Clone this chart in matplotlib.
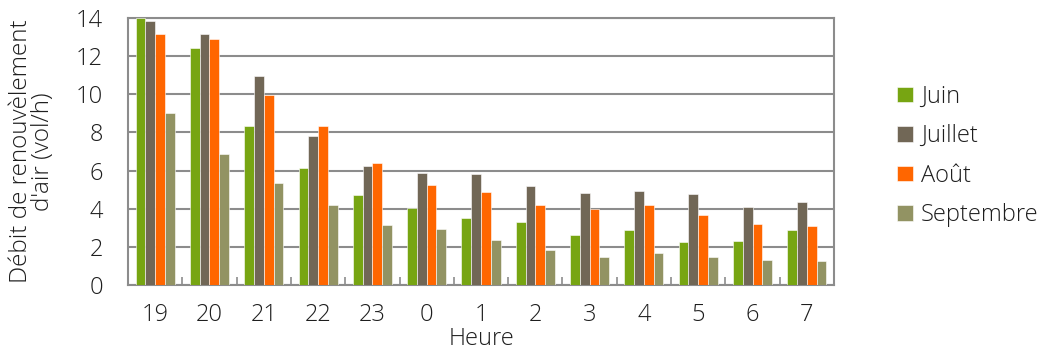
import matplotlib.pyplot as plt
import numpy as np

plt.rcParams['font.family'] = ['Open Sans', 'DejaVu Sans']

# hours and monthly air-change rates (vol/h)
hours = ['19', '20', '21', '22', '23', '0', '1', '2', '3', '4', '5', '6', '7']
juin = [14.0, 12.41, 8.34, 6.14, 4.70, 4.04, 3.53, 3.29, 2.61, 2.87, 2.24, 2.31, 2.87]
juillet = [13.84, 13.16, 10.94, 7.81, 6.24, 5.87, 5.84, 5.19, 4.81, 4.93, 4.77, 4.07, 4.37]
aout = [13.18, 12.92, 9.95, 8.32, 6.38, 5.24, 4.88, 4.19, 3.98, 4.18, 3.67, 3.20, 3.11]
septembre = [9.02, 6.89, 5.33, 4.20, 3.13, 2.92, 2.36, 1.84, 1.47, 1.66, 1.48, 1.31, 1.27]

series = [('Juin', juin, '#77a512'),
          ('Juillet', juillet, '#716756'),
          ('Août', aout, '#ff6600'),
          ('Septembre', septembre, '#929363')]

fs = 17
tc = '#1e1e1e'

fig = plt.figure(figsize=(10.41, 3.51), dpi=100)
ax = fig.add_axes([128 / 1041, 1 - 285 / 351, 706 / 1041, 267 / 351])

x = np.arange(len(hours))
w = 0.18
for i, (name, vals, col) in enumerate(series):
    ax.bar(x + (i - 1.5) * w, vals, w, color=col, label=name,
           edgecolor='white', linewidth=0.4, zorder=3)

ax.set_xlim(-0.5, len(hours) - 0.5)
ax.set_ylim(0, 14)
ax.set_xticks(x)
ax.set_xticklabels(hours, fontweight='light')
ax.set_yticks(range(0, 15, 2), [str(v) for v in range(0, 15, 2)], fontweight='light')
ax.set_xticks(np.arange(0.5, len(hours) - 1, 1), minor=True)
ax.tick_params(axis='x', which='major', length=0, pad=13, labelsize=fs, colors=tc)
ax.tick_params(axis='x', which='minor', direction='in', length=6, color='#8c8c8c', width=1.2)
ax.tick_params(axis='y', length=0, pad=18, labelsize=fs, colors=tc)
ax.grid(axis='y', color='#8c8c8c', linewidth=1.5, zorder=0)
for s in ax.spines.values():
    s.set_color('#8c8c8c')
    s.set_linewidth(1.5)

ax.set_xlabel('Heure', fontsize=fs, color=tc, fontweight='light', labelpad=0)
ax.set_ylabel("Débit de renouvèlement\nd'air (vol/h)", fontsize=17.5, color=tc,
              fontweight='light', labelpad=15, linespacing=0.9)

leg = ax.legend(loc='center left', bbox_to_anchor=(876 / 706 - 128 / 706, 0.483),
                frameon=False, fontsize=fs, handlelength=0.65, handleheight=0.62,
                handletextpad=0.35, labelspacing=0.66)
for t in leg.get_texts():
    t.set_color(tc)
    t.set_fontweight('light')

fig.savefig('out.png', dpi=100)
